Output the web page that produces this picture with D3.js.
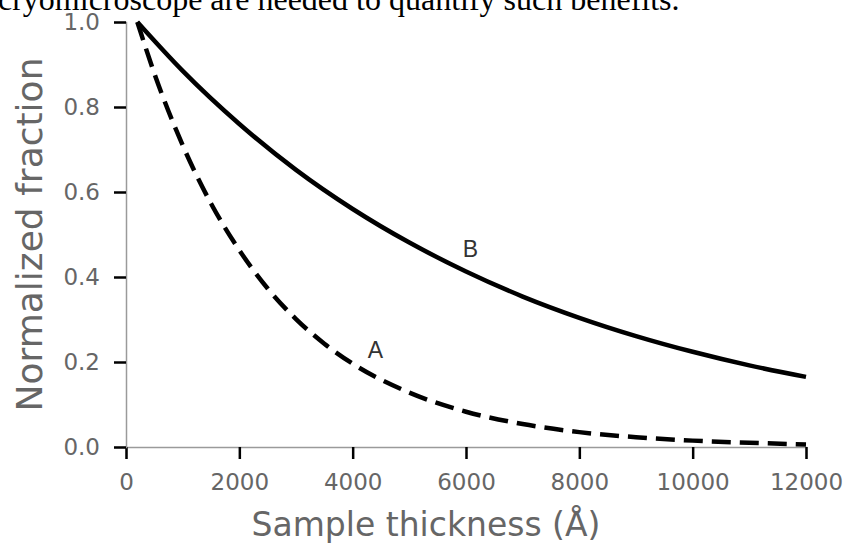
<!DOCTYPE html>
<html>
<head>
<meta charset="utf-8">
<script src="https://cdn.jsdelivr.net/npm/d3@7"></script>
<style>
  body { margin: 0; background: #fff; }
  svg { display: block; }
</style>
</head>
<body>
<div id="chart-area"></div>
<script>
// Thickness in Angstrom, fractions
var thicknessA = [200, 500, 1000, 1500, 2000, 2500, 3000, 3500, 4000, 5000, 6000, 7000, 8000, 9000, 10000, 11000, 12000];
var fractionA  = [1.0, 0.879, 0.71, 0.573, 0.463, 0.373, 0.301, 0.243, 0.196, 0.128, 0.083, 0.054, 0.035, 0.023, 0.015, 0.010, 0.006];

var thicknessB = [200, 1000, 2000, 3000, 4000, 5000, 6000, 7000, 8000, 9000, 10000, 11000, 12000];
var fractionB  = [1.0, 0.885, 0.760, 0.652, 0.560, 0.481, 0.413, 0.354, 0.304, 0.261, 0.224, 0.192, 0.165];

var xTicks = [0, 2000, 4000, 6000, 8000, 10000, 12000];
var yTicks = [0.0, 0.2, 0.4, 0.6, 0.8, 1.0];

var W = 847, H = 548;
var margin = { left: 126, right: 41, top: 22, bottom: 101 };
var width = W - margin.left - margin.right,
    height = H - margin.top - margin.bottom;

var svg = d3.select("#chart-area")
            .append("svg")
                .attr("width", W)
                .attr("height", H);

// cut-off line of body text above the figure
svg.append("text")
    .attr("x", -2)
    .attr("y", 10)
    .attr("font-family", "Liberation Serif, Times New Roman, serif")
    .attr("font-size", "32px")
    .attr("fill", "#000")
    .text("cryomicroscope are needed to quantify such benefits.");

var g = svg.append("g")
            .attr("transform", "translate(" + margin.left + ", " + margin.top + ")");

// X Scale
var x = d3.scaleLinear()
    .domain([0, 12000])
    .range([0, width]);

// Y Scale
var y = d3.scaleLinear()
    .domain([0, 1])
    .range([height, 0]);

// X Axis
var xAxisCall = d3.axisBottom(x)
    .tickValues(xTicks)
    .tickSize(12)
    .tickPadding(15)
    .tickFormat(d3.format("d"));
var xAxisGroup = g.append("g")
    .attr("class", "x axis")
    .attr("transform", "translate(0," + height + ")")
    .call(xAxisCall);

// Y Axis
var yAxisCall = d3.axisLeft(y)
    .tickValues(yTicks)
    .tickSize(12)
    .tickPadding(14)
    .tickFormat(d3.format(".1f"));
var yAxisGroup = g.append("g")
    .attr("class", "y axis")
    .call(yAxisCall);

[xAxisGroup, yAxisGroup].forEach(function(ax) {
    ax.select(".domain").attr("stroke", "#9a9a9a").attr("stroke-width", 1.5);
    ax.selectAll(".tick line").attr("stroke", "#000").attr("stroke-width", 2.5);
    ax.selectAll(".tick text")
        .attr("fill", "#666")
        .attr("font-family", "DejaVu Sans, sans-serif")
        .attr("font-size", "23px");
});

// X Label
g.append("text")
    .attr("x", 300)
    .attr("y", height + 89)
    .attr("font-size", "33px")
    .attr("font-family", "DejaVu Sans, sans-serif")
    .attr("fill", "#666")
    .attr("text-anchor", "middle")
    .text("Sample thickness (Å)");

// Y Label
g.append("text")
    .attr("x", -(height / 2))
    .attr("y", -84)
    .attr("font-size", "36px")
    .attr("font-family", "DejaVu Sans, sans-serif")
    .attr("fill", "#666")
    .attr("text-anchor", "middle")
    .attr("transform", "rotate(-90)")
    .text("Normalized fraction");

var line = d3.line()
    .x(function(d) { return x(d[0]); })
    .y(function(d) { return y(d[1]); })
    .curve(d3.curveMonotoneX);

var dataA = d3.zip(thicknessA, fractionA);
var dataB = d3.zip(thicknessB, fractionB);

g.append("path")
    .datum(dataB)
    .attr("fill", "none")
    .attr("stroke", "#000")
    .attr("stroke-width", 4.5)
    .attr("d", line);

g.append("path")
    .datum(dataA)
    .attr("fill", "none")
    .attr("stroke", "#000")
    .attr("stroke-width", 4.5)
    .attr("stroke-dasharray", "19,9")
    .attr("d", line);

// curve labels
var labels = [
    { name: "A", t: 4400, f: 0.21 },
    { name: "B", t: 6080, f: 0.448 }
];
g.selectAll(".curve-label")
    .data(labels)
    .enter().append("text")
        .attr("class", "curve-label")
        .attr("x", function(d) { return x(d.t); })
        .attr("y", function(d) { return y(d.f); })
        .attr("font-family", "Liberation Sans, Arial, sans-serif")
        .attr("font-size", "23px")
        .attr("fill", "#333")
        .attr("text-anchor", "middle")
        .text(function(d) { return d.name; });
</script>
</body>
</html>
